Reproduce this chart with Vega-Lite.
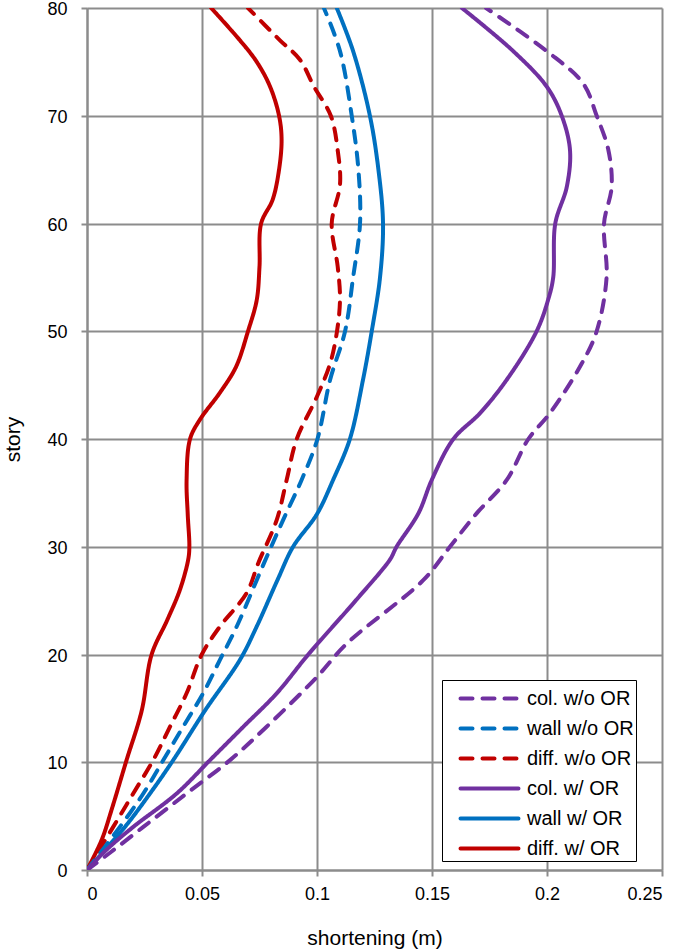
{
  "$schema": "https://vega.github.io/schema/vega-lite/v6.json",
  "width": 575,
  "height": 862,
  "autosize": {"type": "none"},
  "padding": {"left": 87, "top": 8, "right": 23, "bottom": 79},
  "background": "white",
  "config": {
    "view": {"stroke": null},
    "font": "Liberation Sans",
    "axis": {
      "gridColor": "#8c8c8c",
      "gridWidth": 2,
      "domainColor": "#8c8c8c",
      "domainWidth": 2,
      "tickColor": "#8c8c8c",
      "tickWidth": 2,
      "tickSize": 6,
      "labelFontSize": 18,
      "labelColor": "#000",
      "titleFontSize": 21,
      "titleFontWeight": "normal",
      "titleColor": "#000"
    }
  },
  "data": {"values": [
    {"s": "diff. w/ OR", "story": 0, "x": 0},
    {"s": "diff. w/ OR", "story": 2.8, "x": 0.0064},
    {"s": "diff. w/ OR", "story": 5.6, "x": 0.0107},
    {"s": "diff. w/ OR", "story": 10.2, "x": 0.0172},
    {"s": "diff. w/ OR", "story": 14.8, "x": 0.0238},
    {"s": "diff. w/ OR", "story": 20, "x": 0.0281},
    {"s": "diff. w/ OR", "story": 23.2, "x": 0.0349},
    {"s": "diff. w/ OR", "story": 26, "x": 0.0404},
    {"s": "diff. w/ OR", "story": 28.8, "x": 0.044},
    {"s": "diff. w/ OR", "story": 30, "x": 0.0445},
    {"s": "diff. w/ OR", "story": 33, "x": 0.0438},
    {"s": "diff. w/ OR", "story": 36.2, "x": 0.0433},
    {"s": "diff. w/ OR", "story": 40, "x": 0.0448},
    {"s": "diff. w/ OR", "story": 41.8, "x": 0.0491},
    {"s": "diff. w/ OR", "story": 44.3, "x": 0.0578},
    {"s": "diff. w/ OR", "story": 46.7, "x": 0.0648},
    {"s": "diff. w/ OR", "story": 50, "x": 0.07},
    {"s": "diff. w/ OR", "story": 52.9, "x": 0.0738},
    {"s": "diff. w/ OR", "story": 56, "x": 0.075},
    {"s": "diff. w/ OR", "story": 60, "x": 0.0757},
    {"s": "diff. w/ OR", "story": 62.2, "x": 0.0807},
    {"s": "diff. w/ OR", "story": 65, "x": 0.0835},
    {"s": "diff. w/ OR", "story": 67.8, "x": 0.0846},
    {"s": "diff. w/ OR", "story": 70, "x": 0.0835},
    {"s": "diff. w/ OR", "story": 72.7, "x": 0.0796},
    {"s": "diff. w/ OR", "story": 75, "x": 0.0738},
    {"s": "diff. w/ OR", "story": 77, "x": 0.0665},
    {"s": "diff. w/ OR", "story": 80, "x": 0.054},

    {"s": "diff. w/o OR", "story": 0, "x": 0},
    {"s": "diff. w/o OR", "story": 4, "x": 0.0114},
    {"s": "diff. w/o OR", "story": 7.1, "x": 0.0201},
    {"s": "diff. w/o OR", "story": 10.2, "x": 0.0288},
    {"s": "diff. w/o OR", "story": 13.3, "x": 0.0361},
    {"s": "diff. w/o OR", "story": 16.4, "x": 0.0433},
    {"s": "diff. w/o OR", "story": 20, "x": 0.0499},
    {"s": "diff. w/o OR", "story": 22.6, "x": 0.0578},
    {"s": "diff. w/o OR", "story": 25.7, "x": 0.0694},
    {"s": "diff. w/o OR", "story": 28.5, "x": 0.0745},
    {"s": "diff. w/o OR", "story": 32.5, "x": 0.0825},
    {"s": "diff. w/o OR", "story": 36.2, "x": 0.0868},
    {"s": "diff. w/o OR", "story": 40, "x": 0.0912},
    {"s": "diff. w/o OR", "story": 43.9, "x": 0.0999},
    {"s": "diff. w/o OR", "story": 47, "x": 0.1057},
    {"s": "diff. w/o OR", "story": 50, "x": 0.1087},
    {"s": "diff. w/o OR", "story": 53, "x": 0.11},
    {"s": "diff. w/o OR", "story": 56, "x": 0.109},
    {"s": "diff. w/o OR", "story": 60, "x": 0.1064},
    {"s": "diff. w/o OR", "story": 63.6, "x": 0.11},
    {"s": "diff. w/o OR", "story": 66.8, "x": 0.109},
    {"s": "diff. w/o OR", "story": 70, "x": 0.106},
    {"s": "diff. w/o OR", "story": 72.7, "x": 0.0987},
    {"s": "diff. w/o OR", "story": 75.2, "x": 0.0926},
    {"s": "diff. w/o OR", "story": 77, "x": 0.0839},
    {"s": "diff. w/o OR", "story": 80, "x": 0.07},

    {"s": "wall w/o OR", "story": 0, "x": 0},
    {"s": "wall w/o OR", "story": 4, "x": 0.0143},
    {"s": "wall w/o OR", "story": 7.1, "x": 0.0245},
    {"s": "wall w/o OR", "story": 10.2, "x": 0.0332},
    {"s": "wall w/o OR", "story": 13.3, "x": 0.0418},
    {"s": "wall w/o OR", "story": 16.4, "x": 0.0505},
    {"s": "wall w/o OR", "story": 19.5, "x": 0.0578},
    {"s": "wall w/o OR", "story": 22.6, "x": 0.0651},
    {"s": "wall w/o OR", "story": 28.5, "x": 0.077},
    {"s": "wall w/o OR", "story": 32.5, "x": 0.0853},
    {"s": "wall w/o OR", "story": 36.2, "x": 0.0933},
    {"s": "wall w/o OR", "story": 40, "x": 0.1002},
    {"s": "wall w/o OR", "story": 45.5, "x": 0.1057},
    {"s": "wall w/o OR", "story": 50, "x": 0.1122},
    {"s": "wall w/o OR", "story": 55, "x": 0.1157},
    {"s": "wall w/o OR", "story": 60, "x": 0.1187},
    {"s": "wall w/o OR", "story": 65, "x": 0.118},
    {"s": "wall w/o OR", "story": 70, "x": 0.1151},
    {"s": "wall w/o OR", "story": 76, "x": 0.11},
    {"s": "wall w/o OR", "story": 80, "x": 0.103},

    {"s": "wall w/ OR", "story": 0, "x": 0},
    {"s": "wall w/ OR", "story": 4, "x": 0.0165},
    {"s": "wall w/ OR", "story": 7.1, "x": 0.0274},
    {"s": "wall w/ OR", "story": 10.2, "x": 0.0375},
    {"s": "wall w/ OR", "story": 14.8, "x": 0.0513},
    {"s": "wall w/ OR", "story": 19.5, "x": 0.0665},
    {"s": "wall w/ OR", "story": 22.6, "x": 0.0738},
    {"s": "wall w/ OR", "story": 27, "x": 0.083},
    {"s": "wall w/ OR", "story": 30, "x": 0.0896},
    {"s": "wall w/ OR", "story": 33, "x": 0.0999},
    {"s": "wall w/ OR", "story": 36.2, "x": 0.107},
    {"s": "wall w/ OR", "story": 40, "x": 0.1143},
    {"s": "wall w/ OR", "story": 45.5, "x": 0.12},
    {"s": "wall w/ OR", "story": 50, "x": 0.1238},
    {"s": "wall w/ OR", "story": 55, "x": 0.1274},
    {"s": "wall w/ OR", "story": 60, "x": 0.1287},
    {"s": "wall w/ OR", "story": 65, "x": 0.1267},
    {"s": "wall w/ OR", "story": 70, "x": 0.123},
    {"s": "wall w/ OR", "story": 76, "x": 0.1157},
    {"s": "wall w/ OR", "story": 80, "x": 0.1086},

    {"s": "col. w/ OR", "story": 0, "x": 0},
    {"s": "col. w/ OR", "story": 1.9, "x": 0.0086},
    {"s": "col. w/ OR", "story": 4, "x": 0.0201},
    {"s": "col. w/ OR", "story": 7.1, "x": 0.039},
    {"s": "col. w/ OR", "story": 10.2, "x": 0.0535},
    {"s": "col. w/ OR", "story": 13.3, "x": 0.068},
    {"s": "col. w/ OR", "story": 16.4, "x": 0.0825},
    {"s": "col. w/ OR", "story": 20, "x": 0.0962},
    {"s": "col. w/ OR", "story": 25.1, "x": 0.1172},
    {"s": "col. w/ OR", "story": 28.8, "x": 0.1317},
    {"s": "col. w/ OR", "story": 30, "x": 0.1346},
    {"s": "col. w/ OR", "story": 33.1, "x": 0.1441},
    {"s": "col. w/ OR", "story": 36.2, "x": 0.1499},
    {"s": "col. w/ OR", "story": 40, "x": 0.1593},
    {"s": "col. w/ OR", "story": 42.4, "x": 0.1709},
    {"s": "col. w/ OR", "story": 45.5, "x": 0.1825},
    {"s": "col. w/ OR", "story": 50, "x": 0.1955},
    {"s": "col. w/ OR", "story": 53, "x": 0.2006},
    {"s": "col. w/ OR", "story": 55, "x": 0.2027},
    {"s": "col. w/ OR", "story": 60, "x": 0.2036},
    {"s": "col. w/ OR", "story": 63.4, "x": 0.2086},
    {"s": "col. w/ OR", "story": 66.8, "x": 0.21},
    {"s": "col. w/ OR", "story": 70, "x": 0.2064},
    {"s": "col. w/ OR", "story": 72.7, "x": 0.1999},
    {"s": "col. w/ OR", "story": 76, "x": 0.1853},
    {"s": "col. w/ OR", "story": 80, "x": 0.163},

    {"s": "col. w/o OR", "story": 0, "x": 0},
    {"s": "col. w/o OR", "story": 1.6, "x": 0.01},
    {"s": "col. w/o OR", "story": 4, "x": 0.0245},
    {"s": "col. w/o OR", "story": 7.1, "x": 0.0433},
    {"s": "col. w/o OR", "story": 10.2, "x": 0.0622},
    {"s": "col. w/o OR", "story": 13.3, "x": 0.0781},
    {"s": "col. w/o OR", "story": 17.9, "x": 0.0999},
    {"s": "col. w/o OR", "story": 21, "x": 0.1129},
    {"s": "col. w/o OR", "story": 26.9, "x": 0.1462},
    {"s": "col. w/o OR", "story": 30, "x": 0.1578},
    {"s": "col. w/o OR", "story": 33.1, "x": 0.1694},
    {"s": "col. w/o OR", "story": 36.2, "x": 0.1825},
    {"s": "col. w/o OR", "story": 40, "x": 0.1919},
    {"s": "col. w/o OR", "story": 42.4, "x": 0.2013},
    {"s": "col. w/o OR", "story": 47, "x": 0.2151},
    {"s": "col. w/o OR", "story": 50, "x": 0.2216},
    {"s": "col. w/o OR", "story": 55, "x": 0.2259},
    {"s": "col. w/o OR", "story": 60, "x": 0.2248},
    {"s": "col. w/o OR", "story": 63.4, "x": 0.2281},
    {"s": "col. w/o OR", "story": 66.8, "x": 0.2267},
    {"s": "col. w/o OR", "story": 70, "x": 0.2216},
    {"s": "col. w/o OR", "story": 73, "x": 0.2157},
    {"s": "col. w/o OR", "story": 76, "x": 0.1999},
    {"s": "col. w/o OR", "story": 80, "x": 0.1735}
  ]},
  "mark": {"type": "line", "strokeWidth": 4, "strokeCap": "round", "strokeJoin": "round", "interpolate": "catmull-rom", "clip": true},
  "encoding": {
    "x": {
      "field": "x", "type": "quantitative",
      "scale": {"domain": [0, 0.25], "nice": false},
      "axis": {"values": [0, 0.05, 0.1, 0.15, 0.2, 0.25], "format": "~g", "title": "shortening (m)", "labelPadding": 9, "titlePadding": 24}
    },
    "y": {
      "field": "story", "type": "quantitative",
      "scale": {"domain": [0, 80], "nice": false},
      "axis": {"values": [0, 10, 20, 30, 40, 50, 60, 70, 80], "title": "story", "labelPadding": 14, "titlePadding": 23, "labelOffset": 1.5}
    },
    "order": {"field": "story", "type": "quantitative"},
    "color": {
      "field": "s", "type": "nominal",
      "scale": {
        "domain": ["col. w/o OR", "wall w/o OR", "diff. w/o OR", "col. w/ OR", "wall w/ OR", "diff. w/ OR"],
        "range": ["#7030A0", "#0070C0", "#C00000", "#7030A0", "#0070C0", "#C00000"]
      },
      "legend": {
        "title": null,
        "orient": "none",
        "legendX": 355,
        "legendY": 672,
        "symbolType": "M0,0H4",
        "symbolSize": 841,
        "symbolStrokeWidth": 4,
        "labelFontSize": 20,
        "labelOffset": 50,
        "labelExpr": "datum.label + '\u00a0\u00a0\u00a0\u00a0'",
        "rowPadding": 3,
        "padding": 2,
        "strokeColor": "#000",
        "fillColor": "#fff",
        "labelLimit": 300,
        "encode": {"symbols": {"update": {"strokeCap": {"value": "round"}}}}
      }
    },
    "strokeDash": {
      "field": "s", "type": "nominal",
      "scale": {
        "domain": ["col. w/o OR", "wall w/o OR", "diff. w/o OR", "col. w/ OR", "wall w/ OR", "diff. w/ OR"],
        "range": [[12, 10], [12, 10], [12, 10], [1, 0], [1, 0], [1, 0]]
      },
      "legend": null
    }
  }
}
